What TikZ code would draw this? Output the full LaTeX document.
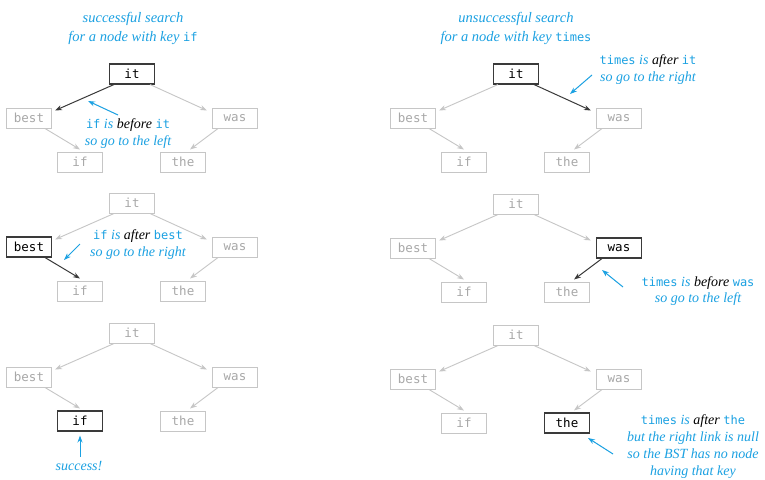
\documentclass[tikz,border=0pt]{standalone}
\usepackage{fontspec}
\setmainfont{Liberation Serif}
\setmonofont{DejaVu Sans Mono}
\usetikzlibrary{arrows.meta,calc}
\definecolor{cy}{HTML}{1BA1E2}
\definecolor{lg}{HTML}{C6C6C6}
\definecolor{lgt}{HTML}{A8A8A8}
\definecolor{dk}{HTML}{3A3A3A}
\newcommand\kw[1]{{\upshape\ttfamily\fontsize{12}{14}\selectfont #1}}
\newcommand\bstnodes[8]{%
  \node[#4] (#1-it)   at ({#2+132},{#3})    {it};
  \node[#5] (#1-best) at ({#2+29},{#3+44})  {best};
  \node[#6] (#1-was)  at ({#2+235},{#3+44}) {was};
  \node[#7] (#1-if)   at ({#2+80},{#3+88})  {if};
  \node[#8] (#1-the)  at ({#2+183},{#3+88}) {the};
}
\newcommand\bstlinks[5]{%
  \draw[#2] ($(#1-it.south west)+(5,0)$) -- ($(#1-best.north east)+(3,3)$);
  \draw[#3] ($(#1-it.south east)+(-5,0)$) -- ($(#1-was.north west)+(-5,3)$);
  \draw[#4] ($(#1-best.south east)+(-7,0)$) -- ($(#1-if.north)+(0,-2)$);
  \draw[#5] ($(#1-was.south west)+(6,0)$) -- ($(#1-the.north)+(7,-2)$);
}
\begin{document}
\begin{tikzpicture}[x=1pt,y=-1pt,
  key/.style={draw=lg, line width=1pt, text=lgt, minimum width=45pt, minimum height=20pt,
    inner sep=0pt, font=\fontsize{12.5}{14}\selectfont\ttfamily},
  hot/.style={key, draw=dk, text=black, line width=1.1pt},
  link/.style={draw=lg, line width=0.9pt, -{Stealth[length=7pt,width=5pt]}},
  hotlink/.style={link, draw=dk, line width=1pt},
  note/.style={text=cy, font=\fontsize{14}{17}\selectfont\itshape, align=center, inner sep=0pt},
  title/.style={note, font=\fontsize{14.5}{19}\selectfont\itshape},
  cyarrow/.style={draw=cy, line width=1pt, -{Stealth[length=7pt,width=5pt]}},
]
\useasboundingbox[fill=white] (0,0) rectangle (765,479);

% titles
\node[title] (tl) at (133,28) {successful search\\for a node with key \kw{if}};
\node[title] (tr) at (516,28) {unsuccessful search\\for a node with key \kw{times}};

% left column
\bstnodes{a}{0}{74}{hot}{key}{key}{key}{key}
\bstlinks{a}{hotlink}{link}{link}{link}
\bstnodes{b}{0}{203}{key}{hot}{key}{key}{key}
\bstlinks{b}{link}{link}{hotlink}{link}
\bstnodes{c}{0}{333}{key}{key}{key}{hot}{key}
\bstlinks{c}{link}{link}{link}{link}

% right column
\bstnodes{d}{384}{74}{hot}{key}{key}{key}{key}
\bstlinks{d}{link}{hotlink}{link}{link}
\bstnodes{e}{384}{204}{key}{key}{hot}{key}{key}
\bstlinks{e}{link}{link}{link}{hotlink}
\bstnodes{f}{384}{335}{key}{key}{key}{key}{hot}
\bstlinks{f}{link}{link}{link}{link}

% notes
\node[note] (na) at (128,134) {\kw{if} is \textcolor{black}{before} \kw{it}\\so go to the left};
\coordinate (na1) at (118,115); \coordinate (na2) at (88,101);
\draw[cyarrow] (na1) -- (na2);

\node[note] (nb) at (138,245) {\kw{if} is \textcolor{black}{after} \kw{best}\\so go to the right};
\coordinate (nb1) at (80,244); \coordinate (nb2) at (64,260);
\draw[cyarrow] (nb1) -- (nb2);

\node[note] (nc) at (79,466) {success!};
\draw[cyarrow] ($(c-if.south)+(0,25)$) -- ($(c-if.south)+(0,4)$);

\node[note] (nd) at (648,70) {\kw{times} is \textcolor{black}{after} \kw{it}\\so go to the right};
\coordinate (nd1) at (592,75); \coordinate (nd2) at (570,94);
\draw[cyarrow] (nd1) -- (nd2);

\node[note, font=\fontsize{14}{16}\selectfont\itshape] (ne) at (698,291) {\kw{times} is \textcolor{black}{before} \kw{was}\\so go to the left};
\coordinate (ne1) at (623,287); \coordinate (ne2) at (602,270);
\draw[cyarrow] (ne1) -- (ne2);

\node[note] (nf) at (693,447) {\kw{times} is \textcolor{black}{after} \kw{the}\\but the right link is null\\so the BST has no node\\having that key};
\coordinate (nf1) at (613,454); \coordinate (nf2) at (588,438);
\draw[cyarrow] (nf1) -- (nf2);
\end{tikzpicture}
\end{document}
